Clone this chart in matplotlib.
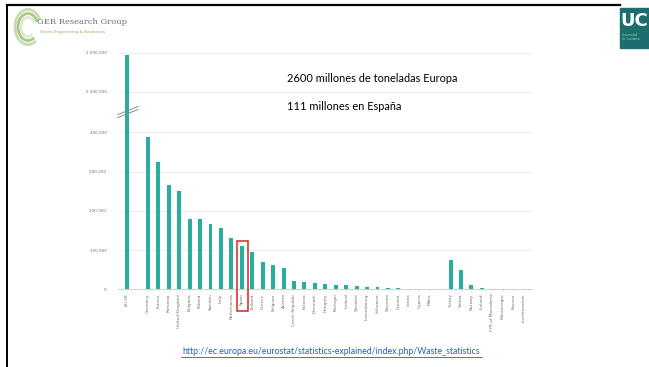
"""Slide: waste generation by country (Eurostat), broken y axis."""
import matplotlib; matplotlib.use("Agg")
import matplotlib.pyplot as plt
import numpy as np
from matplotlib.patches import Rectangle, Arc
from matplotlib.lines import Line2D

W, H, DPI = 649, 367, 100
BAR = "#28ad9e"
GRID = "#ececec"
LBL = "#707070"

# data (thousand tonnes)
total_label = ["EU-28"]
total_value = [2595000]
eu_labels = ["Germany", "France", "Romania", "United Kingdom", "Bulgaria", "Poland",
             "Sweden", "Italy", "Netherlands", "Spain", "Finland", "Greece", "Belgium",
             "Austria", "Czech Republic", "Estonia", "Denmark", "Hungary", "Portugal",
             "Ireland", "Slovakia", "Luxembourg", "Lithuania", "Slovenia", "Croatia",
             "Latvia", "Cyprus", "Malta"]
eu_values = [389000, 325000, 267000, 250000, 178000, 178000, 167000, 157000, 131000,
             110000, 95000, 70000, 63000, 55000, 20000, 18000, 16000, 13500, 12000,
             11000, 8400, 6600, 5000, 4000, 2500, 1500, 1200, 800]
other_labels = ["Turkey", "Serbia", "Norway", "Iceland", "FYR of Macedonia",
                "Montenegro", "Kosovo", "Liechtenstein"]
other_values = [74000, 49000, 11000, 2800, 600, 400, 300, 200]
low_ticks = [0, 100000, 200000, 300000, 400000]
high_ticks = [2500000, 2600000]

labels = total_label + eu_labels + other_labels
values = np.array(total_value + eu_values + other_values)
# one empty slot between groups
xpos = np.concatenate([np.arange(len(total_label)),
                       np.arange(len(eu_labels)) + 2,
                       np.arange(len(other_labels)) + len(eu_labels) + 3])

def fmt(v):
    return f"{v:,.0f}".replace(",", " ")

def box(l, t, r, b):
    return [l / W, 1 - b / H, (r - l) / W, (b - t) / H]

fig = plt.figure(figsize=(W / DPI, H / DPI), dpi=DPI)
fig.patch.set_facecolor("white")

xl, xr = -0.9, 38.8
ax_lo = fig.add_axes(box(117.6, 111.9, 532, 289.3))
ax_hi = fig.add_axes(box(117.6, 44.9, 532, 111.6))
for ax, lim, ticks in [(ax_lo, (0, 452000), low_ticks), (ax_hi, (2450000, 2620000), high_ticks)]:
    ax.bar(xpos, values, width=0.38, color=BAR, zorder=3)
    ax.set_xlim(xl, xr); ax.set_ylim(*lim)
    ax.set_yticks(ticks, [fmt(t) for t in ticks], fontsize=3, color=LBL)
    ax.tick_params(axis="y", length=0, pad=8)
    ax.grid(axis="y", color=GRID, lw=0.6, zorder=0)
    for s in ["top", "right", "left", "bottom"]:
        ax.spines[s].set_visible(False)
ax_hi.set_xticks([])
ax_lo.spines["bottom"].set_visible(True)
ax_lo.spines["bottom"].set_color("#c8c8c8"); ax_lo.spines["bottom"].set_linewidth(0.6)
ax_lo.set_xticks(xpos, labels, rotation=90, fontsize=3.1, color=LBL)
ax_lo.tick_params(axis="x", length=1.5, width=0.4, color="#c8c8c8", pad=1.5)

# overlay in pixel coordinates for slide decorations
ov = fig.add_axes([0, 0, 1, 1], facecolor="none")
ov.set_xlim(0, W); ov.set_ylim(H, 0); ov.set_axis_off()

# slide border
ov.add_line(Line2D([7, 620], [4.5, 4.5], color="black", lw=1.6))
ov.add_line(Line2D([7, 7], [4.5, H], color="black", lw=1.4))

# axis break marks
for dy in (0, 3):
    ov.add_line(Line2D([118, 138], [116 + dy - 1.5, 108 + dy - 1.5], color="#8a8a8a", lw=0.7))

# red box round Spain
ov.add_patch(Rectangle((237, 241), 10.5, 70, fill=False, ec="#e02020", lw=1.1))

# annotations
ov.text(287, 78.5, "2600 millones de toneladas Europa", fontsize=7.9, family="Lato",
        va="center", ha="left", color="black")
ov.text(287, 107, "111 millones en España", fontsize=7.9, family="Lato",
        va="center", ha="left", color="black")
url = "http://ec.europa.eu/eurostat/statistics-explained/index.php/Waste_statistics"
ov.text(331.5, 352, url, fontsize=6.3, family="Lato", color="#1f5fc8",
        ha="center", va="center")
ov.add_line(Line2D([181, 482], [357, 357], color="#1f5fc8", lw=0.6))

# GER logo
for r, c in [(26, "#c9dcb0"), (20, "#a9c98a"), (14, "#dfe9cf")]:
    ov.add_patch(Arc((28, 27), r, r * 1.35, theta1=60, theta2=330, color=c, lw=2))
ov.text(37, 22, "GER Research Group", fontsize=6, family="DejaVu Serif",
        color="#707070", va="center", ha="left")
ov.text(40, 32, "Green Engineering & Resources", fontsize=3, color="#8aae5a",
        va="center", ha="left")

# UC logo
ov.add_patch(Rectangle((620, 8), 29, 40, color="#1b6e6c"))
ov.text(620, 21, "UC", fontsize=13, fontweight="bold", color="white",
        va="center", ha="left")
ov.text(622, 37, "Universidad\nde Cantabria", fontsize=2, color="#9cc7c4",
        va="center", ha="left", linespacing=1.2)

fig.savefig("out.png", dpi=DPI, facecolor="white")
